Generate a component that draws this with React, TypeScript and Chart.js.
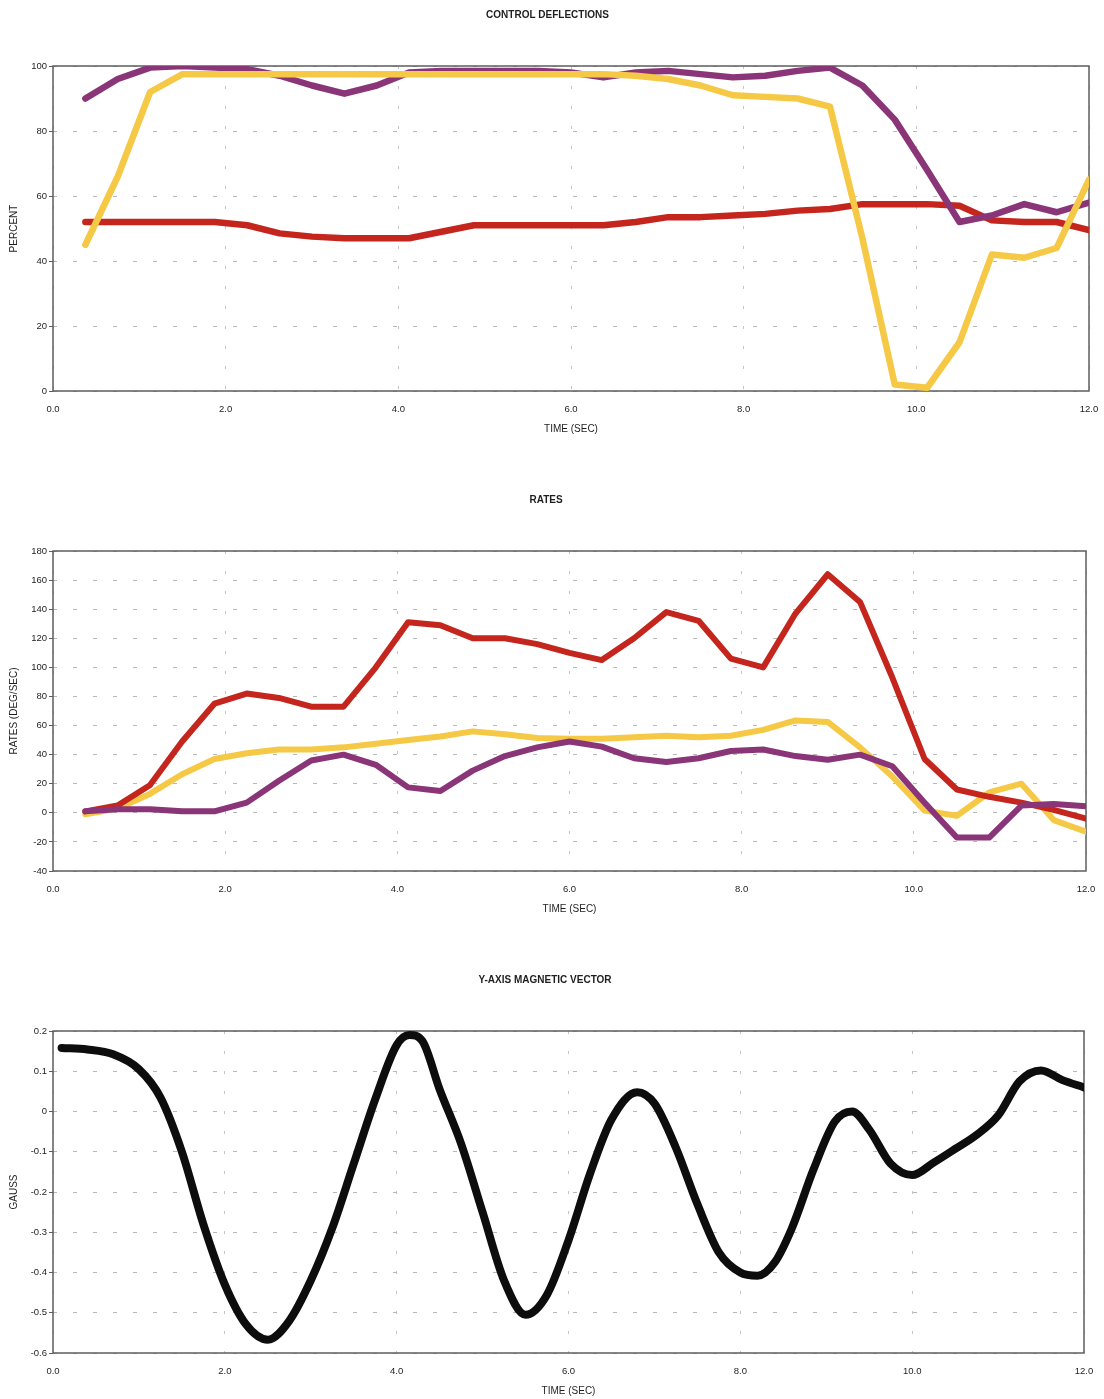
import React, { useEffect, useRef } from 'react';
import { Chart, registerables } from 'chart.js';

Chart.register(...registerables);

// ---------- DATA ----------
const TIME_STEPS = [0.375, 0.75, 1.125, 1.5, 1.875, 2.25, 2.625, 3.0, 3.375, 3.75, 4.125, 4.5, 4.875, 5.25, 5.625, 6.0, 6.375, 6.75, 7.125, 7.5, 7.875, 8.25, 8.625, 9.0, 9.375, 9.75, 10.125, 10.5, 10.875, 11.25, 11.625, 12.0];

const DEFL_RED = [52, 52, 52, 52, 52, 51, 48.5, 47.5, 47, 47, 47, 49, 51, 51, 51, 51, 51, 52, 53.5, 53.5, 54, 54.5, 55.5, 56, 57.5, 57.5, 57.5, 57, 52.5, 52, 52, 49.5];
const DEFL_PURPLE = [90, 96, 99.5, 100, 99.5, 99, 97, 94, 91.5, 94, 98, 98.5, 98.5, 98.5, 98.5, 98, 96.5, 98, 98.5, 97.5, 96.5, 97, 98.5, 99.5, 94, 83.5, 68, 52, 54, 57.5, 55, 58];
const DEFL_YELLOW = [45, 66, 92, 97.5, 97.5, 97.5, 97.5, 97.5, 97.5, 97.5, 97.5, 97.5, 97.5, 97.5, 97.5, 97.5, 97.5, 97, 96, 94, 91, 90.5, 90, 87.5, 47, 2, 1, 15, 42, 41, 44, 65];

const RATE_RED = [1, 5, 19, 49, 75, 82, 79, 73, 73, 100, 131, 129, 120, 120, 116, 110, 105, 120, 138, 132, 106, 100, 137, 164, 145, 93, 37, 16, 11, 7, 2, -4];
const RATE_YELLOW = [-1, 3, 13, 26.5, 37, 41, 43.5, 43.5, 45, 47.5, 50, 52.5, 56, 54, 51.5, 51, 51, 52, 53, 52, 53, 57, 63.5, 62.5, 45, 25, 1.5, -2, 14, 20, -5, -13];
const RATE_PURPLE = [1, 2.5, 2.5, 1, 1, 7, 22, 36, 40, 33, 17.5, 15, 29, 39, 45, 49, 45.5, 37.5, 35, 37.5, 42.5, 43.5, 39, 36.5, 40, 32, 7, -17, -17, 5, 6, 4.5];

const MAG_TIME = [0.1, 0.4, 0.7, 1.0, 1.25, 1.5, 1.75, 2.0, 2.25, 2.5, 2.75, 3.0, 3.25, 3.5, 3.75, 4.0, 4.15, 4.3, 4.5, 4.75, 5.0, 5.25, 5.5, 5.75, 6.0, 6.25, 6.5, 6.8, 7.0, 7.25, 7.5, 7.75, 8.0, 8.2, 8.4, 8.6, 8.85, 9.1, 9.3, 9.5, 9.75, 10.0, 10.25, 10.5, 10.75, 11.0, 11.25, 11.5, 11.75, 12.0];
const MAG_GAUSS = [0.158, 0.154, 0.142, 0.105, 0.035, -0.1, -0.28, -0.43, -0.53, -0.567, -0.52, -0.42, -0.29, -0.13, 0.03, 0.165, 0.19, 0.175, 0.055, -0.08, -0.25, -0.42, -0.505, -0.455, -0.32, -0.155, -0.02, 0.048, 0.02, -0.09, -0.23, -0.35, -0.4, -0.408, -0.375, -0.29, -0.145, -0.025, 0.0, -0.045, -0.13, -0.158, -0.127, -0.093, -0.058, -0.01, 0.075, 0.102, 0.078, 0.06];

const X_TICKS = [0, 2, 4, 6, 8, 10, 12];
const DEFL_TICKS = [0, 20, 40, 60, 80, 100];
const RATE_TICKS = [-40, -20, 0, 20, 40, 60, 80, 100, 120, 140, 160, 180];
const GAUSS_TICKS = [-0.6, -0.5, -0.4, -0.3, -0.2, -0.1, 0, 0.1, 0.2];

const TITLES = ['CONTROL DEFLECTIONS', 'RATES', 'Y-AXIS MAGNETIC VECTOR'];
const Y_TITLES = ['PERCENT', 'RATES (DEG/SEC)', 'GAUSS'];
const X_TITLE = 'TIME (SEC)';

// ---------- STYLE ----------
const FONT = 'Liberation Sans, Arial, Helvetica, sans-serif';
const RED = '#c4261d';
const PURPLE = '#8a3577';
const YELLOW = '#f5c945';
const BLACK = '#0d0d0d';
const TEXT = '#1e1e1e';

const pts = (xs: number[], ys: number[]) => xs.map((x, i) => ({ x, y: ys[i] }));

const framePlugin = {
  id: 'frame',
  beforeDatasetsDraw(chart: any) {
    const { ctx, chartArea } = chart;
    ctx.save();
    ctx.strokeStyle = '#5e5e5e';
    ctx.lineWidth = 1.5;
    ctx.strokeRect(chartArea.left, chartArea.top, chartArea.right - chartArea.left, chartArea.bottom - chartArea.top);
    ctx.restore();
  },
};

interface PanelProps {
  top: number;
  height: number;
  titleCenter: number;
  plotTop: number;
  plotBottom: number;
  leftPad: number;
  rightPad: number;
  title: string;
  yTitle: string;
  yMin: number;
  yMax: number;
  yTicks: number[];
  yFormat: (v: number) => string;
  datasets: any[];
}

function Panel(p: PanelProps) {
  const ref = useRef<HTMLCanvasElement | null>(null);
  useEffect(() => {
    if (!ref.current) return;
    const leftPad = p.leftPad;
    const chart = new Chart(ref.current, {
      type: 'line',
      data: { datasets: p.datasets },
      options: {
        animation: false,
        responsive: false,
        devicePixelRatio: 1,
        layout: { padding: { left: leftPad, right: p.rightPad, top: 0, bottom: 0 } },
        elements: { point: { radius: 0, hoverRadius: 0 } },
        plugins: {
          legend: { display: false },
          tooltip: { enabled: false },
          title: {
            display: true,
            text: p.title,
            color: TEXT,
            font: { family: FONT, size: 10, weight: 'bold', lineHeight: 1.2 },
            padding: { top: p.titleCenter - 6, bottom: p.plotTop - (p.titleCenter - 6) - 12 },
          },
        },
        scales: {
          x: {
            type: 'linear',
            min: 0,
            max: 12,
            afterBuildTicks: (s: any) => { s.ticks = X_TICKS.map((v) => ({ value: v })); },
            afterFit: (s: any) => { s.height = p.height - p.plotBottom; },
            ticks: {
              callback: (v: any) => Number(v).toFixed(1),
              padding: 2,
              color: TEXT,
              font: { family: FONT, size: 9.5 },
              maxRotation: 0,
              autoSkip: false,
            },
            grid: {
              color: '#c4c4c4',
              lineWidth: 1,
              drawTicks: true,
              tickLength: 11,
              tickColor: 'rgba(0,0,0,0)',
              tickBorderDash: [],
            },
            border: { display: false, dash: [3, 17] },
            title: {
              display: true,
              text: X_TITLE,
              color: TEXT,
              font: { family: FONT, size: 10, lineHeight: 1.2 },
              padding: { top: 0, bottom: 7 },
            },
          },
          y: {
            type: 'linear',
            min: p.yMin,
            max: p.yMax,
            afterBuildTicks: (s: any) => { s.ticks = p.yTicks.map((v) => ({ value: v })); },
            afterFit: (s: any) => { s.width = 53 - leftPad; },
            ticks: {
              callback: (v: any) => p.yFormat(Number(v)),
              padding: 2,
              color: TEXT,
              font: { family: FONT, size: 9.5 },
              autoSkip: false,
            },
            grid: { color: '#b8b8b8', lineWidth: 1, tickLength: 4, tickColor: '#5e5e5e', tickBorderDash: [] },
            border: { display: false, dash: [4, 16] },
            title: {
              display: true,
              text: p.yTitle,
              color: TEXT,
              font: { family: FONT, size: 10, lineHeight: 1.2 },
              padding: { top: 14 - leftPad - 6, bottom: 0 },
            },
          },
        },
      } as any,
      plugins: [framePlugin],
    });
    return () => chart.destroy();
  }, []);
  return (
    <canvas
      ref={ref}
      width={1104}
      height={p.height}
      style={{ position: 'absolute', left: 0, top: p.top, width: 1104, height: p.height, display: 'block' }}
    />
  );
}

const lineDs = (data: any[], color: string, width: number, extra: any = {}) => ({
  data,
  borderColor: color,
  backgroundColor: color,
  borderWidth: width,
  borderJoinStyle: 'round',
  borderCapStyle: 'round',
  tension: 0,
  fill: false,
  pointRadius: 0,
  ...extra,
});

const intFmt = (v: number) => String(Math.round(v));
const gaussFmt = (v: number) => (Math.abs(v) < 1e-9 ? '0' : v.toFixed(1));

export default function App() {
  const deflSets = [
    lineDs(pts(TIME_STEPS, DEFL_YELLOW), YELLOW, 6.5),
    lineDs(pts(TIME_STEPS, DEFL_PURPLE), PURPLE, 6.5),
    lineDs(pts(TIME_STEPS, DEFL_RED), RED, 6.5),
  ];
  const rateSets = [
    lineDs(pts(TIME_STEPS, RATE_PURPLE), PURPLE, 6),
    lineDs(pts(TIME_STEPS, RATE_RED), RED, 6),
    lineDs(pts(TIME_STEPS, RATE_YELLOW), YELLOW, 6),
  ];
  const magSets = [
    lineDs(pts(MAG_TIME, MAG_GAUSS), BLACK, 8, { cubicInterpolationMode: 'monotone', tension: 0.4 }),
  ];
  return (
    <div style={{ position: 'absolute', left: 0, top: 0, width: 1104, height: 1399, background: '#ffffff', overflow: 'hidden' }}>
      <Panel top={0} height={442} titleCenter={15} plotTop={66} plotBottom={391} leftPad={6} rightPad={15}
        title={TITLES[0]} yTitle={Y_TITLES[0]} yMin={0} yMax={100} yTicks={DEFL_TICKS} yFormat={intFmt} datasets={deflSets} />
      <Panel top={480} height={442} titleCenter={20} plotTop={71} plotBottom={391} leftPad={6} rightPad={18}
        title={TITLES[1]} yTitle={Y_TITLES[1]} yMin={-40} yMax={180} yTicks={RATE_TICKS} yFormat={intFmt} datasets={rateSets} />
      <Panel top={960} height={444} titleCenter={20} plotTop={71} plotBottom={393} leftPad={6} rightPad={20}
        title={TITLES[2]} yTitle={Y_TITLES[2]} yMin={-0.6} yMax={0.2} yTicks={GAUSS_TICKS} yFormat={gaussFmt} datasets={magSets} />
    </div>
  );
}
